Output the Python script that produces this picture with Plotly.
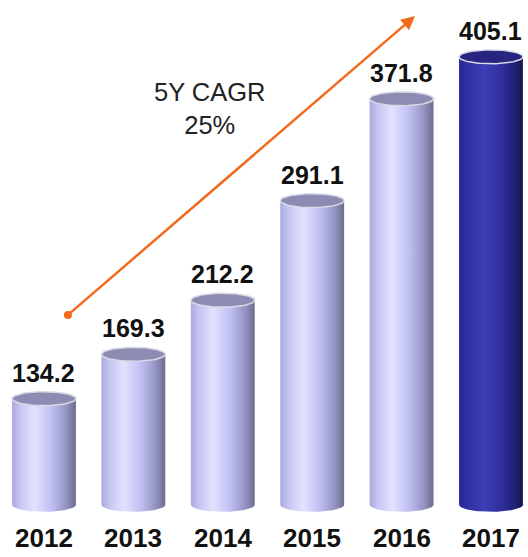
import numpy as np
import plotly.graph_objects as go

years = ["2012", "2013", "2014", "2015", "2016", "2017"]
values = [134.2, 169.3, 212.2, 291.1, 371.8, 405.1]
highlight = [False, False, False, False, False, True]

BASE = 50.0      # axis is truncated; cylinders start here
RX = 0.357       # half width of a cylinder (category units)
RY = 5.5         # vertical radius of the ellipses (value units)

light_scale = [[0.0, "#a9a9df"], [0.12, "#c4c4f2"], [0.35, "#e2e2ff"],
               [0.6, "#c2c2f4"], [0.85, "#9494c4"], [1.0, "#6c6c8c"]]
dark_scale = [[0.0, "#282890"], [0.15, "#3030a4"], [0.4, "#3e3eb6"],
              [0.7, "#2c2c9a"], [0.9, "#1e1e70"], [1.0, "#14144c"]]
light_top = "#8c8cb2"
dark_top = "#262680"
FONT = "Arial, Liberation Sans"

fig = go.Figure()
t = np.linspace(0, np.pi, 40)
tt = np.linspace(0, 2 * np.pi, 80)

for i, (yr, v, hl) in enumerate(zip(years, values, highlight)):
    xs = list(i - RX * np.cos(t)) + [i + RX, i - RX, i - RX]
    ys = list(BASE - RY * np.sin(t)) + [v, v, BASE]
    fig.add_trace(go.Scatter(
        x=xs, y=ys, mode="lines", fill="toself",
        line=dict(width=0, color="rgba(0,0,0,0)"),
        fillgradient=dict(type="horizontal",
                          colorscale=dark_scale if hl else light_scale),
        hoverinfo="skip", showlegend=False))
    fig.add_trace(go.Scatter(
        x=i + RX * np.cos(tt), y=v + RY * np.sin(tt), mode="lines",
        fill="toself", fillcolor=dark_top if hl else light_top,
        line=dict(width=1.5, color="#d8d8e6"),
        hoverinfo="skip", showlegend=False))
    fig.add_annotation(x=i, y=v + RY, text=f"<b>{v:.1f}</b>", showarrow=False,
                       yanchor="bottom", yshift=3,
                       font=dict(family=FONT, size=25, color="#111"))
    fig.add_annotation(x=i, y=0, xref="x", yref="paper", text=f"<b>{yr}</b>",
                       showarrow=False, yanchor="middle", yshift=-18,
                       font=dict(family=FONT, size=26, color="#111"))

# growth arrow
cagr = (values[-1] / values[0]) ** (1 / (len(values) - 1)) - 1
ARROW_START = (0.268, 200.5)
ARROW_END = (4.15, 437.4)
ORANGE = "#f26b1d"
fig.add_annotation(x=ARROW_END[0], y=ARROW_END[1], ax=ARROW_START[0], ay=ARROW_START[1],
                   xref="x", yref="y", axref="x", ayref="y", text="",
                   showarrow=True, arrowhead=2, arrowsize=1.1, arrowwidth=2.5,
                   arrowcolor=ORANGE)
fig.add_trace(go.Scatter(x=[ARROW_START[0]], y=[ARROW_START[1]], mode="markers",
                         marker=dict(color=ORANGE, size=8), hoverinfo="skip",
                         showlegend=False))
fig.add_annotation(x=1.857, y=364.5, text=f"5Y CAGR<br>{cagr*100:.0f}%",
                   showarrow=False, font=dict(family=FONT, size=25.5, color="#222"))

fig.update_layout(
    width=528, height=557,
    margin=dict(l=0, r=0, t=0, b=37),
    paper_bgcolor="white", plot_bgcolor="white",
    xaxis=dict(range=[-0.492, 5.414], showticklabels=False, showgrid=False,
               zeroline=False, showline=False, ticks="", fixedrange=True),
    yaxis=dict(range=[38.0, 450.1], visible=False, fixedrange=True),
)
fig.write_html("out.html", config={"displayModeBar": False},
               post_script="document.body.style.margin='0';document.body.style.overflow='hidden';")
